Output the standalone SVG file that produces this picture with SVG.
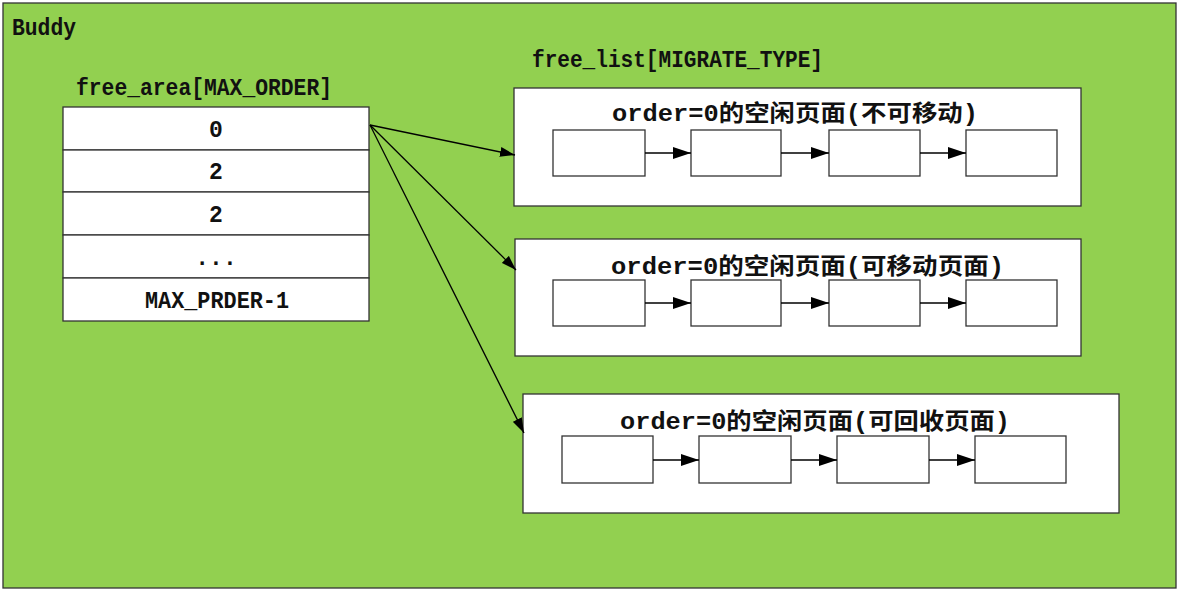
<svg xmlns="http://www.w3.org/2000/svg" width="1179" height="593" viewBox="0 0 1179 593">
<defs>
<marker id="ah" viewBox="0 0 15 10" refX="15" refY="5" markerWidth="15" markerHeight="10" markerUnits="userSpaceOnUse" orient="auto">
<path d="M0,0 L15,5 L0,10 Z" fill="#000"/>
</marker>
<marker id="ah2" viewBox="0 0 18 12" refX="18" refY="6" markerWidth="18" markerHeight="12" markerUnits="userSpaceOnUse" orient="auto">
<path d="M0,0 L18,6 L0,12 Z" fill="#000"/>
</marker>
</defs>
<style>
.t{font-family:"Liberation Mono","Noto Sans CJK SC",monospace;font-weight:bold;font-size:23px;fill:#111}
.c{text-anchor:middle}
.box{fill:#fff;stroke:#333;stroke-width:1.3}
.cell{fill:#fff;stroke:#333;stroke-width:1.3}
.ln{stroke:#000;stroke-width:1.3;fill:none;marker-end:url(#ah)}
.ln2{stroke:#000;stroke-width:1.3;fill:none;marker-end:url(#ah2)}
</style>
<rect x="3" y="3" width="1173" height="585" fill="#92D050" stroke="#333" stroke-width="1.3"/>
<text class="t" x="12" y="35" textLength="64" lengthAdjust="spacingAndGlyphs">Buddy</text>

<g id="free_area">
<text class="t" x="76" y="95" textLength="256" lengthAdjust="spacingAndGlyphs">free_area[MAX_ORDER]</text>
<rect class="cell" x="63" y="107" width="306" height="43"/>
<rect class="cell" x="63" y="150" width="306" height="42"/>
<rect class="cell" x="63" y="192" width="306" height="43"/>
<rect class="cell" x="63" y="235" width="306" height="43"/>
<rect class="cell" x="63" y="278" width="306" height="43"/>
<text class="t c" x="216" y="137">0</text>
<text class="t c" x="216" y="179">2</text>
<text class="t c" x="216" y="222">2</text>
<text class="t c" x="216" y="265">...</text>
<text class="t" x="145" y="308" textLength="144" lengthAdjust="spacingAndGlyphs">MAX_PRDER-1</text>
</g>

<text class="t" x="532" y="67" textLength="291" lengthAdjust="spacingAndGlyphs">free_list[MIGRATE_TYPE]</text>

<g id="list1">
<rect class="box" x="514" y="88" width="567" height="118"/>
<text class="t" x="612" y="121" textLength="366" lengthAdjust="spacingAndGlyphs">order=0的空闲页面(不可移动)</text>
<rect class="box" x="553" y="130" width="92" height="46"/>
<rect class="box" x="691" y="130" width="90" height="46"/>
<rect class="box" x="829" y="130" width="91" height="46"/>
<rect class="box" x="966" y="130" width="91" height="46"/>
</g>

<g id="list2">
<rect class="box" x="515" y="239" width="566" height="117"/>
<text class="t" x="611" y="274" textLength="393" lengthAdjust="spacingAndGlyphs">order=0的空闲页面(可移动页面)</text>
<rect class="box" x="553" y="280" width="92" height="46"/>
<rect class="box" x="691" y="280" width="90" height="46"/>
<rect class="box" x="829" y="280" width="91" height="46"/>
<rect class="box" x="966" y="280" width="91" height="46"/>
</g>

<g id="list3">
<rect class="box" x="523" y="394" width="596" height="119"/>
<text class="t" x="620" y="429" textLength="390" lengthAdjust="spacingAndGlyphs">order=0的空闲页面(可回收页面)</text>
<rect class="box" x="562" y="436" width="91" height="47"/>
<rect class="box" x="699" y="436" width="92" height="47"/>
<rect class="box" x="837" y="436" width="92" height="47"/>
<rect class="box" x="975" y="436" width="91" height="47"/>
</g>

<g id="connectors">
<line class="ln" x1="370" y1="125" x2="515" y2="155"/>
<line class="ln" x1="370" y1="125" x2="516" y2="270"/>
<line class="ln" x1="370" y1="125" x2="524" y2="433"/>
<line class="ln2" x1="645" y1="153" x2="691" y2="153"/>
<line class="ln2" x1="781" y1="153" x2="829" y2="153"/>
<line class="ln2" x1="920" y1="153" x2="966" y2="153"/>
<line class="ln2" x1="645" y1="303" x2="691" y2="303"/>
<line class="ln2" x1="781" y1="303" x2="829" y2="303"/>
<line class="ln2" x1="920" y1="303" x2="966" y2="303"/>
<line class="ln2" x1="653" y1="460" x2="699" y2="460"/>
<line class="ln2" x1="791" y1="460" x2="837" y2="460"/>
<line class="ln2" x1="929" y1="460" x2="975" y2="460"/>
</g>
</svg>
